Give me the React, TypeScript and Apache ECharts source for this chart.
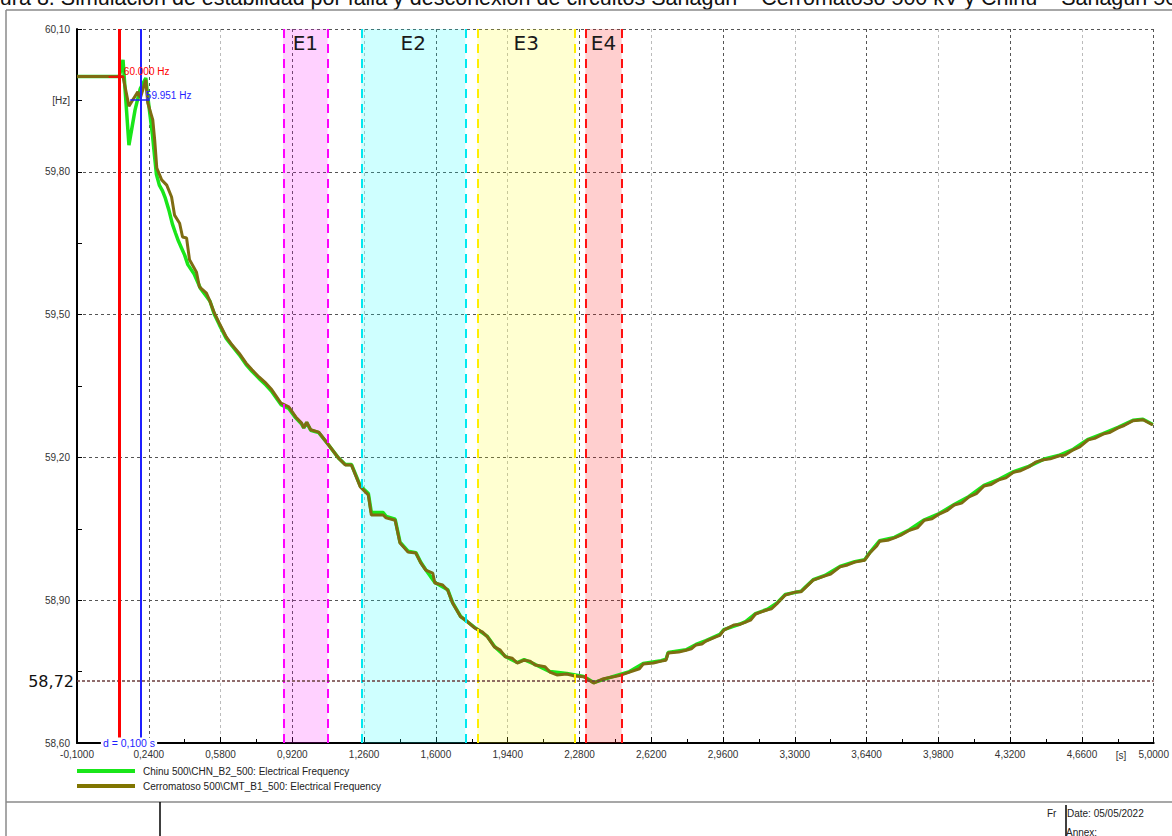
import React, { useEffect, useRef } from "react";
import * as echarts from "echarts";

// ---- data ----
const titleText =
  "Figura 8. Simulación de estabilidad por falla y desconexión de circuitos Sahagún – Cerromatoso 500 kV y Chinú – Sahagún 500 kV";

const seriesNames = [
  "Chinu 500\\CHN_B2_500: Electrical Frequency",
  "Cerromatoso 500\\CMT_B1_500: Electrical Frequency",
];

// time [s], frequency [Hz]
const chinuFreq: [number, number][] = [
  [-0.1, 60.0], [0.1, 60.0], [0.118, 60.035], [0.146, 59.856], [0.175, 59.93], [0.2, 59.975],
  [0.226, 59.997], [0.236, 59.955], [0.247, 59.915], [0.258, 59.875], [0.268, 59.83], [0.276, 59.795],
  [0.29, 59.772], [0.305, 59.76], [0.318, 59.745], [0.335, 59.72], [0.352, 59.69], [0.366, 59.672],
  [0.38, 59.655], [0.395, 59.64], [0.41, 59.625], [0.425, 59.605], [0.44, 59.595], [0.455, 59.585],
  [0.47, 59.57], [0.485, 59.555], [0.51, 59.54], [0.53, 59.528], [0.551, 59.5], [0.574, 59.479],
  [0.607, 59.45], [0.635, 59.434], [0.668, 59.416], [0.701, 59.395], [0.729, 59.381], [0.762, 59.366],
  [0.795, 59.352], [0.823, 59.338], [0.866, 59.311], [0.903, 59.303], [0.936, 59.283], [0.964, 59.27],
  [0.974, 59.262], [0.988, 59.273], [1.007, 59.257], [1.045, 59.252], [1.092, 59.226], [1.138, 59.199],
  [1.171, 59.185], [1.2, 59.185], [1.242, 59.14], [1.28, 59.124], [1.294, 59.085], [1.35, 59.084],
  [1.364, 59.076], [1.407, 59.07], [1.43, 59.022], [1.468, 59.003], [1.505, 59.0], [1.529, 58.979],
  [1.552, 58.964], [1.595, 58.937], [1.656, 58.922], [1.679, 58.895], [1.717, 58.866], [1.783, 58.843],
  [1.844, 58.824], [1.877, 58.803], [1.929, 58.782], [1.985, 58.769], [2.018, 58.775], [2.07, 58.765],
  [2.14, 58.75], [2.22, 58.746], [2.3, 58.74], [2.347, 58.727], [2.441, 58.74], [2.517, 58.75],
  [2.582, 58.767], [2.667, 58.773], [2.69, 58.776], [2.7, 58.79], [2.785, 58.796], [2.832, 58.807],
  [2.879, 58.815], [2.945, 58.828], [2.964, 58.838], [3.04, 58.85], [3.067, 58.855], [3.114, 58.872],
  [3.171, 58.881], [3.218, 58.895], [3.255, 58.912], [3.33, 58.919], [3.349, 58.927], [3.387, 58.943],
  [3.443, 58.952], [3.514, 58.971], [3.584, 58.981], [3.631, 58.985], [3.655, 59.0], [3.702, 59.025],
  [3.772, 59.032], [3.843, 59.048], [3.914, 59.069], [3.984, 59.082], [4.055, 59.101], [4.125, 59.118],
  [4.196, 59.141], [4.267, 59.154], [4.337, 59.17], [4.408, 59.181], [4.478, 59.196], [4.549, 59.204],
  [4.619, 59.217], [4.69, 59.238], [4.76, 59.25], [4.831, 59.263], [4.902, 59.278], [4.949, 59.28],
  [4.996, 59.269],
];

const cerromatosoFreq: [number, number][] = [
  [-0.1, 60.0], [0.118, 60.0], [0.146, 59.938], [0.188, 59.968], [0.2, 59.955], [0.226, 59.993],
  [0.235, 59.945], [0.259, 59.909], [0.268, 59.867], [0.278, 59.808], [0.301, 59.783], [0.325, 59.772],
  [0.348, 59.747], [0.362, 59.709], [0.386, 59.692], [0.4, 59.663], [0.419, 59.661], [0.433, 59.615],
  [0.466, 59.589], [0.48, 59.558], [0.513, 59.545], [0.527, 59.531], [0.551, 59.503], [0.574, 59.482],
  [0.607, 59.453], [0.635, 59.436], [0.668, 59.419], [0.701, 59.398], [0.729, 59.384], [0.762, 59.369],
  [0.795, 59.356], [0.823, 59.342], [0.866, 59.314], [0.903, 59.306], [0.936, 59.285], [0.964, 59.272],
  [0.974, 59.262], [0.988, 59.274], [1.007, 59.258], [1.045, 59.253], [1.092, 59.226], [1.138, 59.199],
  [1.171, 59.184], [1.2, 59.184], [1.242, 59.138], [1.28, 59.121], [1.294, 59.079], [1.35, 59.079],
  [1.364, 59.073], [1.407, 59.068], [1.43, 59.02], [1.468, 59.001], [1.505, 58.999], [1.529, 58.978],
  [1.552, 58.963], [1.585, 58.957], [1.595, 58.936], [1.632, 58.932], [1.656, 58.921], [1.679, 58.894],
  [1.717, 58.865], [1.741, 58.858], [1.783, 58.842], [1.821, 58.833], [1.844, 58.823], [1.877, 58.802],
  [1.905, 58.795], [1.929, 58.781], [1.962, 58.778], [1.985, 58.768], [2.018, 58.774], [2.046, 58.772],
  [2.07, 58.764], [2.117, 58.76], [2.14, 58.749], [2.173, 58.743], [2.22, 58.745], [2.253, 58.741],
  [2.3, 58.739], [2.347, 58.726], [2.394, 58.735], [2.441, 58.739], [2.479, 58.743], [2.517, 58.749],
  [2.564, 58.756], [2.582, 58.766], [2.63, 58.768], [2.667, 58.772], [2.69, 58.774], [2.7, 58.789],
  [2.75, 58.791], [2.785, 58.795], [2.81, 58.798], [2.832, 58.806], [2.86, 58.808], [2.879, 58.814],
  [2.926, 58.823], [2.945, 58.826], [2.964, 58.837], [3.011, 58.848], [3.04, 58.849], [3.067, 58.854],
  [3.09, 58.858], [3.114, 58.871], [3.171, 58.88], [3.19, 58.882], [3.218, 58.894], [3.255, 58.911],
  [3.302, 58.917], [3.33, 58.918], [3.349, 58.926], [3.387, 58.942], [3.443, 58.951], [3.47, 58.955],
  [3.514, 58.97], [3.55, 58.974], [3.584, 58.98], [3.631, 58.984], [3.655, 58.999], [3.688, 59.014],
  [3.702, 59.024], [3.74, 59.026], [3.772, 59.031], [3.8, 59.036], [3.843, 59.047], [3.88, 59.052],
  [3.914, 59.068], [3.95, 59.071], [3.984, 59.081], [4.02, 59.088], [4.055, 59.1], [4.09, 59.104],
  [4.125, 59.117], [4.16, 59.124], [4.196, 59.14], [4.23, 59.143], [4.267, 59.153], [4.3, 59.157],
  [4.337, 59.169], [4.37, 59.172], [4.408, 59.18], [4.44, 59.19], [4.478, 59.195], [4.51, 59.197],
  [4.549, 59.203], [4.58, 59.205], [4.619, 59.216], [4.65, 59.222], [4.69, 59.237], [4.72, 59.24],
  [4.76, 59.249], [4.79, 59.252], [4.831, 59.262], [4.86, 59.267], [4.902, 59.277], [4.949, 59.279],
  [4.996, 59.268],
];

// stage bands
const bandNames = ["E1", "E2", "E3", "E4"];
const bandStart = [0.876, 1.246, 1.796, 2.308];
const bandEnd = [1.087, 1.739, 2.26, 2.48];

// cursors
const cursorTimes = [0.1, 0.2];
const cursorValues = [60.0, 59.951];
const cursorLabels = ["60.000 Hz", "59.951 Hz"];
const cursorDelta = "d = 0,100 s";

const minimumValue = 58.725;
const minimumLabel = "58,72";

const footerDate = "Date: 05/05/2022";

// ---- styles ----
const bandFill = ["rgba(255,0,255,0.18)", "rgba(0,255,255,0.19)", "rgba(255,255,0,0.18)", "rgba(255,0,0,0.19)"];
const bandEdge = ["#ff00ff", "#00e8f0", "#ffee00", "#ff1010"];
const cursorColors = ["#ff0000", "#1f1fff"];
const FONT = "Liberation Sans, Arial, sans-serif";

const fmtComma = (v: number, d: number) => v.toFixed(d).replace(".", ",");

export default function App() {
  const ref = useRef<HTMLDivElement>(null);

  useEffect(() => {
    if (!ref.current) return;
    const chart = echarts.init(ref.current, undefined, { renderer: "svg" });

    const bandAreas = bandNames.map((n, i) => [
      { name: n, xAxis: bandStart[i], itemStyle: { color: bandFill[i] } },
      { xAxis: bandEnd[i] },
    ]);
    const bandLines: any[] = [];
    bandNames.forEach((_, i) => {
      [bandStart[i], bandEnd[i]].forEach((x) =>
        bandLines.push({ xAxis: x, lineStyle: { color: bandEdge[i], width: 2, type: [9, 6] } })
      );
    });

    const option: any = {
      animation: false,
      grid: { left: 77, top: 29, right: 11, bottom: 93, containLabel: false },
      legend: {
        data: seriesNames,
        orient: "vertical",
        left: 77,
        top: 765,
        padding: 0,
        itemGap: 3,
        itemWidth: 58,
        itemHeight: 4,
        icon: "rect",
        selectedMode: false,
        textStyle: { fontSize: 10, color: "#222", fontFamily: FONT, lineHeight: 12, padding: [0, 0, 0, 3] },
      },
      xAxis: {
        type: "value",
        min: -0.1,
        max: 5.0,
        interval: 0.34,
        axisLine: { show: true, onZero: false, lineStyle: { color: "#000", width: 2 } },
        axisTick: { show: true, inside: true, length: 6, lineStyle: { color: "#000", width: 1 } },
        minorTick: { show: true, splitNumber: 2, length: 4, lineStyle: { color: "#000", width: 1 } },
        axisLabel: { fontSize: 10, color: "#333", fontFamily: FONT, margin: 6, formatter: (v: number) => fmtComma(v, 4) },
        splitLine: { show: true, lineStyle: { color: ["#bbbbbb", "#555555"], type: [3, 3], width: 1 } },
      },
      yAxis: [
        {
          type: "value",
          min: 58.6,
          max: 60.1,
          interval: 0.15,
          axisLine: { show: true, onZero: false, lineStyle: { color: "#000", width: 2 } },
          axisTick: { show: true, inside: true, length: 5, lineStyle: { color: "#000", width: 1 } },
          axisLabel: {
            fontSize: 10,
            color: "#333",
            fontFamily: FONT,
            margin: 7,
            formatter: (v: number) => {
              const c = Math.round(v * 100);
              if (c === 5995) return "[Hz]";
              if ((c - 5860) % 30 === 0) return fmtComma(c / 100, 2);
              return "";
            },
          },
          splitLine: { show: false },
        },
        {
          type: "value",
          min: 58.6,
          max: 60.1,
          interval: 0.3,
          position: "left",
          axisLine: { show: false },
          axisTick: { show: false },
          axisLabel: { show: false },
          splitLine: { show: true, lineStyle: { color: "#555", type: [3, 3], width: 1 } },
        },
      ],
      series: [
        {
          name: "bands",
          type: "line",
          data: [],
          z: 1,
          silent: true,
          markArea: {
            silent: true,
            label: {
              show: true,
              position: "insideTop",
              distance: 4,
              fontSize: 20,
              color: "#1a1a1a",
              fontFamily: "DejaVu Sans, Verdana, sans-serif",
              formatter: "{b}",
            },
            emphasis: { disabled: true },
            data: bandAreas,
          },
          markLine: {
            silent: true,
            symbol: ["none", "none"],
            label: { show: false },
            emphasis: { disabled: true },
            data: bandLines,
          },
        },
        {
          name: "minimum",
          type: "line",
          data: [],
          z: 2,
          silent: true,
          markLine: {
            silent: true,
            symbol: ["none", "none"],
            emphasis: { disabled: true },
            data: [
              {
                yAxis: minimumValue,
                lineStyle: { color: "#6b3c3c", type: [3, 2], width: 1.5 },
                label: {
                  show: true,
                  position: "start",
                  distance: 3,
                  formatter: minimumLabel,
                  fontSize: 16,
                  color: "#111",
                  fontFamily: "DejaVu Sans, Verdana, sans-serif",
                },
              },
            ],
          },
        },
        {
          name: seriesNames[0],
          type: "line",
          data: chinuFreq,
          showSymbol: false,
          symbol: "none",
          z: 3,
          color: "#19e619",
          lineStyle: { color: "#19e619", width: 3.5 },
        },
        {
          name: seriesNames[1],
          type: "line",
          data: cerromatosoFreq,
          showSymbol: false,
          symbol: "none",
          z: 4,
          color: "#807500",
          lineStyle: { color: "#7e6c12", width: 3 },
        },
        {
          name: "cursors",
          type: "line",
          data: [],
          z: 5,
          silent: true,
          markLine: {
            silent: true,
            symbol: ["none", "none"],
            label: { show: false },
            emphasis: { disabled: true },
            data: [
              { xAxis: cursorTimes[0], lineStyle: { color: cursorColors[0], width: 3, type: "solid" } },
              { xAxis: cursorTimes[1], lineStyle: { color: cursorColors[1], width: 2, type: "solid" } },
              [
                { coord: [cursorTimes[0] - 0.05, cursorValues[0]], lineStyle: { color: cursorColors[0], width: 1.5, type: "solid" } },
                { coord: [cursorTimes[0] + 0.022, cursorValues[0]] },
              ],
              [
                { coord: [cursorTimes[1] - 0.048, cursorValues[1]], lineStyle: { color: cursorColors[1], width: 1.5, type: "solid" } },
                { coord: [cursorTimes[1] + 0.045, cursorValues[1]] },
              ],
            ],
          },
          markPoint: {
            silent: true,
            symbol: "rect",
            symbolSize: 0,
            emphasis: { disabled: true },
            data: [
              {
                coord: [cursorTimes[0] + 0.022, cursorValues[0] + 0.01],
                label: { show: true, position: "right", distance: 0, formatter: cursorLabels[0], color: cursorColors[0], fontSize: 10, fontFamily: FONT },
              },
              {
                coord: [cursorTimes[1] + 0.026, cursorValues[1] + 0.01],
                label: { show: true, position: "right", distance: 0, formatter: cursorLabels[1], color: cursorColors[1], fontSize: 10, fontFamily: FONT },
              },
            ],
          },
        },
      ],
      graphic: [
        {
          type: "text",
          x: -30,
          y: 9,
          silent: true,
          style: { text: titleText, fontSize: 21.5, fontFamily: FONT, fill: "#111", verticalAlign: "bottom", align: "left" },
        },
        { type: "line", silent: true, shape: { x1: 6, y1: 10, x2: 1172, y2: 10 }, style: { stroke: "#8a8a8a", lineWidth: 1.5 } },
        { type: "line", silent: true, shape: { x1: 6, y1: 10, x2: 6, y2: 836 }, style: { stroke: "#8a8a8a", lineWidth: 1.5 } },
        { type: "line", silent: true, shape: { x1: 6, y1: 802, x2: 1172, y2: 802 }, style: { stroke: "#8a8a8a", lineWidth: 1.5 } },
        { type: "line", silent: true, shape: { x1: 160, y1: 802, x2: 160, y2: 836 }, style: { stroke: "#000", lineWidth: 1.5 } },
        { type: "line", silent: true, shape: { x1: 1066, y1: 805, x2: 1066, y2: 836 }, style: { stroke: "#000", lineWidth: 1.5 } },
        {
          type: "text",
          silent: true,
          x: 1121,
          y: 755,
          style: { text: "[s]", fontSize: 10, fontFamily: FONT, fill: "#333", align: "center", verticalAlign: "middle" },
        },
        {
          type: "text",
          silent: true,
          z: 100,
          x: 129,
          y: 743,
          style: {
            text: cursorDelta,
            fontSize: 10.5,
            fontFamily: FONT,
            fill: cursorColors[1],
            align: "center",
            verticalAlign: "middle",
            backgroundColor: "#fff",
            padding: [0, 2],
          },
        },
        { type: "text", silent: true, x: 1047, y: 813, style: { text: "Fr", fontSize: 10, fontFamily: FONT, fill: "#222", verticalAlign: "middle" } },
        { type: "text", silent: true, x: 1067, y: 813, style: { text: footerDate, fontSize: 10, fontFamily: FONT, fill: "#222", verticalAlign: "middle" } },
        { type: "text", silent: true, x: 1066, y: 832, style: { text: "Annex:", fontSize: 10, fontFamily: FONT, fill: "#222", verticalAlign: "middle" } },
      ],
    };

    chart.setOption(option);
    return () => chart.dispose();
  }, []);

  return (
    <div
      ref={ref}
      style={{ position: "absolute", left: 0, top: 0, width: 1172, height: 836, background: "#fff", overflow: "hidden" }}
    />
  );
}
